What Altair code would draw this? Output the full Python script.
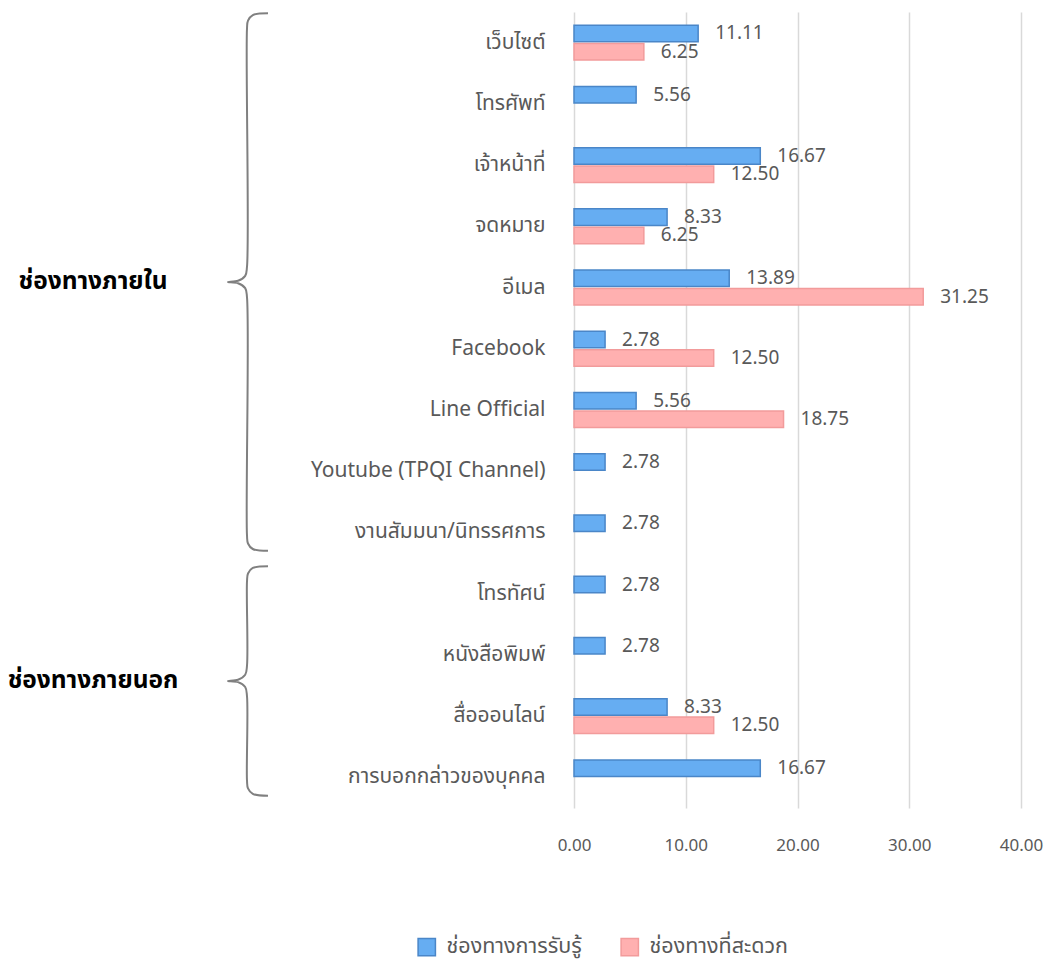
import altair as alt
import pandas as pd

categories = [
    "เว็บไซต์", "โทรศัพท์", "เจ้าหน้าที่", "จดหมาย", "อีเมล", "Facebook",
    "Line Official", "Youtube (TPQI Channel)", "งานสัมมนา/นิทรรศการ",
    "โทรทัศน์", "หนังสือพิมพ์", "สื่อออนไลน์", "การบอกกล่าวของบุคคล",
]
series = ["ช่องทางการรับรู้", "ช่องทางที่สะดวก"]
aware = [11.11, 5.56, 16.67, 8.33, 13.89, 2.78, 5.56, 2.78, 2.78, 2.78, 2.78, 8.33, 16.67]
convenient = [6.25, None, 12.50, 6.25, 31.25, 12.50, 18.75, None, None, None, None, 12.50, None]

group_names = ["ช่องทางภายใน", "ช่องทางภายนอก"]
group_first = [0, 9]
group_last = [8, 12]

FONT = "Noto Sans Thai, Noto Sans, Open Sans, sans-serif"
GRAY = "#595959"

rows = []
for c, a, v in zip(categories, aware, convenient):
    if a is not None:
        rows.append({"cat": c, "series": series[0], "value": a})
    if v is not None:
        rows.append({"cat": c, "series": series[1], "value": v})
df = pd.DataFrame(rows)

# brace decoration geometry derived from the group spans
brace_rows = []
mids = []
for g, f, l in zip(group_names, group_first, group_last):
    t = f + (0.02 if f == 0 else 0.05)
    b = l + 1 - 0.2
    m = (t + b) / 2
    mids.append(m)
    pts = [
        (1.0, t), (0.62, t + 0.03), (0.5, t + 0.12), (0.475, t + 0.25),
        (0.475, m - 0.25), (0.43, m - 0.1), (0.25, m - 0.02), (0.0, m),
        (0.25, m + 0.02), (0.43, m + 0.1), (0.475, m + 0.25),
        (0.475, b - 0.25), (0.5, b - 0.12), (0.62, b - 0.03), (1.0, b),
    ]
    for i, (x, y) in enumerate(pts):
        brace_rows.append({"group": g, "i": i, "bx": x, "by": y})
brace_df = pd.DataFrame(brace_rows)
label_df = pd.DataFrame({"group": group_names, "mid": mids})

W, H = 447, 796

y_enc = alt.Y("cat:N", sort=categories,
              scale=alt.Scale(domain=categories, paddingInner=0.43, paddingOuter=0.215),
              axis=alt.Axis(title=None, domain=False, ticks=False, labelPadding=29,
                            labelFontSize=21, labelColor=GRAY, labelFont=FONT, labelLimit=400))
yoff = alt.YOffset("series:N", sort=series,
                   scale=alt.Scale(domain=series, paddingInner=0.1, paddingOuter=0))
x_enc = alt.X("value:Q", scale=alt.Scale(domain=[0, 40]),
              axis=alt.Axis(title=None, values=[0, 10, 20, 30, 40], format=".2f",
                            domain=False, ticks=False, labelPadding=29, labelFontSize=17,
                            labelColor=GRAY, labelFont=FONT, grid=True, labelFlush=False,
                            gridColor="#D9D9D9", gridWidth=1.5))

legend = alt.Legend(title=None, orient="none", legendX=-158, legendY=924,
                    direction="horizontal", symbolType="square",
                    symbolSize=300, labelFontSize=21.5, labelColor=GRAY,
                    labelFont=FONT, columnPadding=36, labelOffset=9,
                    symbolStrokeWidth=1.5)

bars = alt.Chart(df).mark_bar(strokeWidth=1.5).encode(
    y=y_enc, yOffset=yoff, x=x_enc,
    fill=alt.Fill("series:N", sort=series,
                  scale=alt.Scale(domain=series, range=["#66ADF2", "#FFB0B0"]),
                  legend=legend),
    stroke=alt.Stroke("series:N", sort=series,
                      scale=alt.Scale(domain=series, range=["#4A86C8", "#F29B9B"]),
                      legend=legend),
)

texts = alt.Chart(df).mark_text(align="left", baseline="middle", dx=17, fontSize=19,
                                color=GRAY, font=FONT).encode(
    y=alt.Y("cat:N", sort=categories), yOffset=alt.YOffset("series:N", sort=series),
    x="value:Q", text=alt.Text("value:Q", format=".2f"),
)

main = alt.layer(bars, texts)

bx = alt.X("bx:Q", scale=alt.Scale(domain=[0, 1], range=[-346, -306]), axis=None)
by = alt.Y("by:Q", scale=alt.Scale(domain=[0, 13], range=[0, H]), axis=None)

braces = alt.Chart(brace_df).mark_line(color="#808080", strokeWidth=2,
                                       interpolate="catmull-rom").encode(
    x=bx, y=by, detail="group:N", order="i:Q",
)
glabels = alt.Chart(label_df).mark_text(align="center", baseline="middle", fontSize=24.5,
                                        fontWeight="bold", color="black", font=FONT).encode(
    x=alt.value(-481),
    y=alt.Y("mid:Q", scale=alt.Scale(domain=[0, 13], range=[0, H]), axis=None),
    text="group:N",
)
deco = alt.layer(braces, glabels)

chart = alt.layer(main, deco).resolve_scale(
    x="independent", y="independent"
).properties(
    width=W, height=H,
    autosize=alt.AutoSizeParams(type="none"),
    padding={"left": 574, "top": 12, "right": 28, "bottom": 154},
).configure(font=FONT).configure_view(stroke=None)

chart.save("out.html", embed_options={"renderer": "svg", "actions": False})
